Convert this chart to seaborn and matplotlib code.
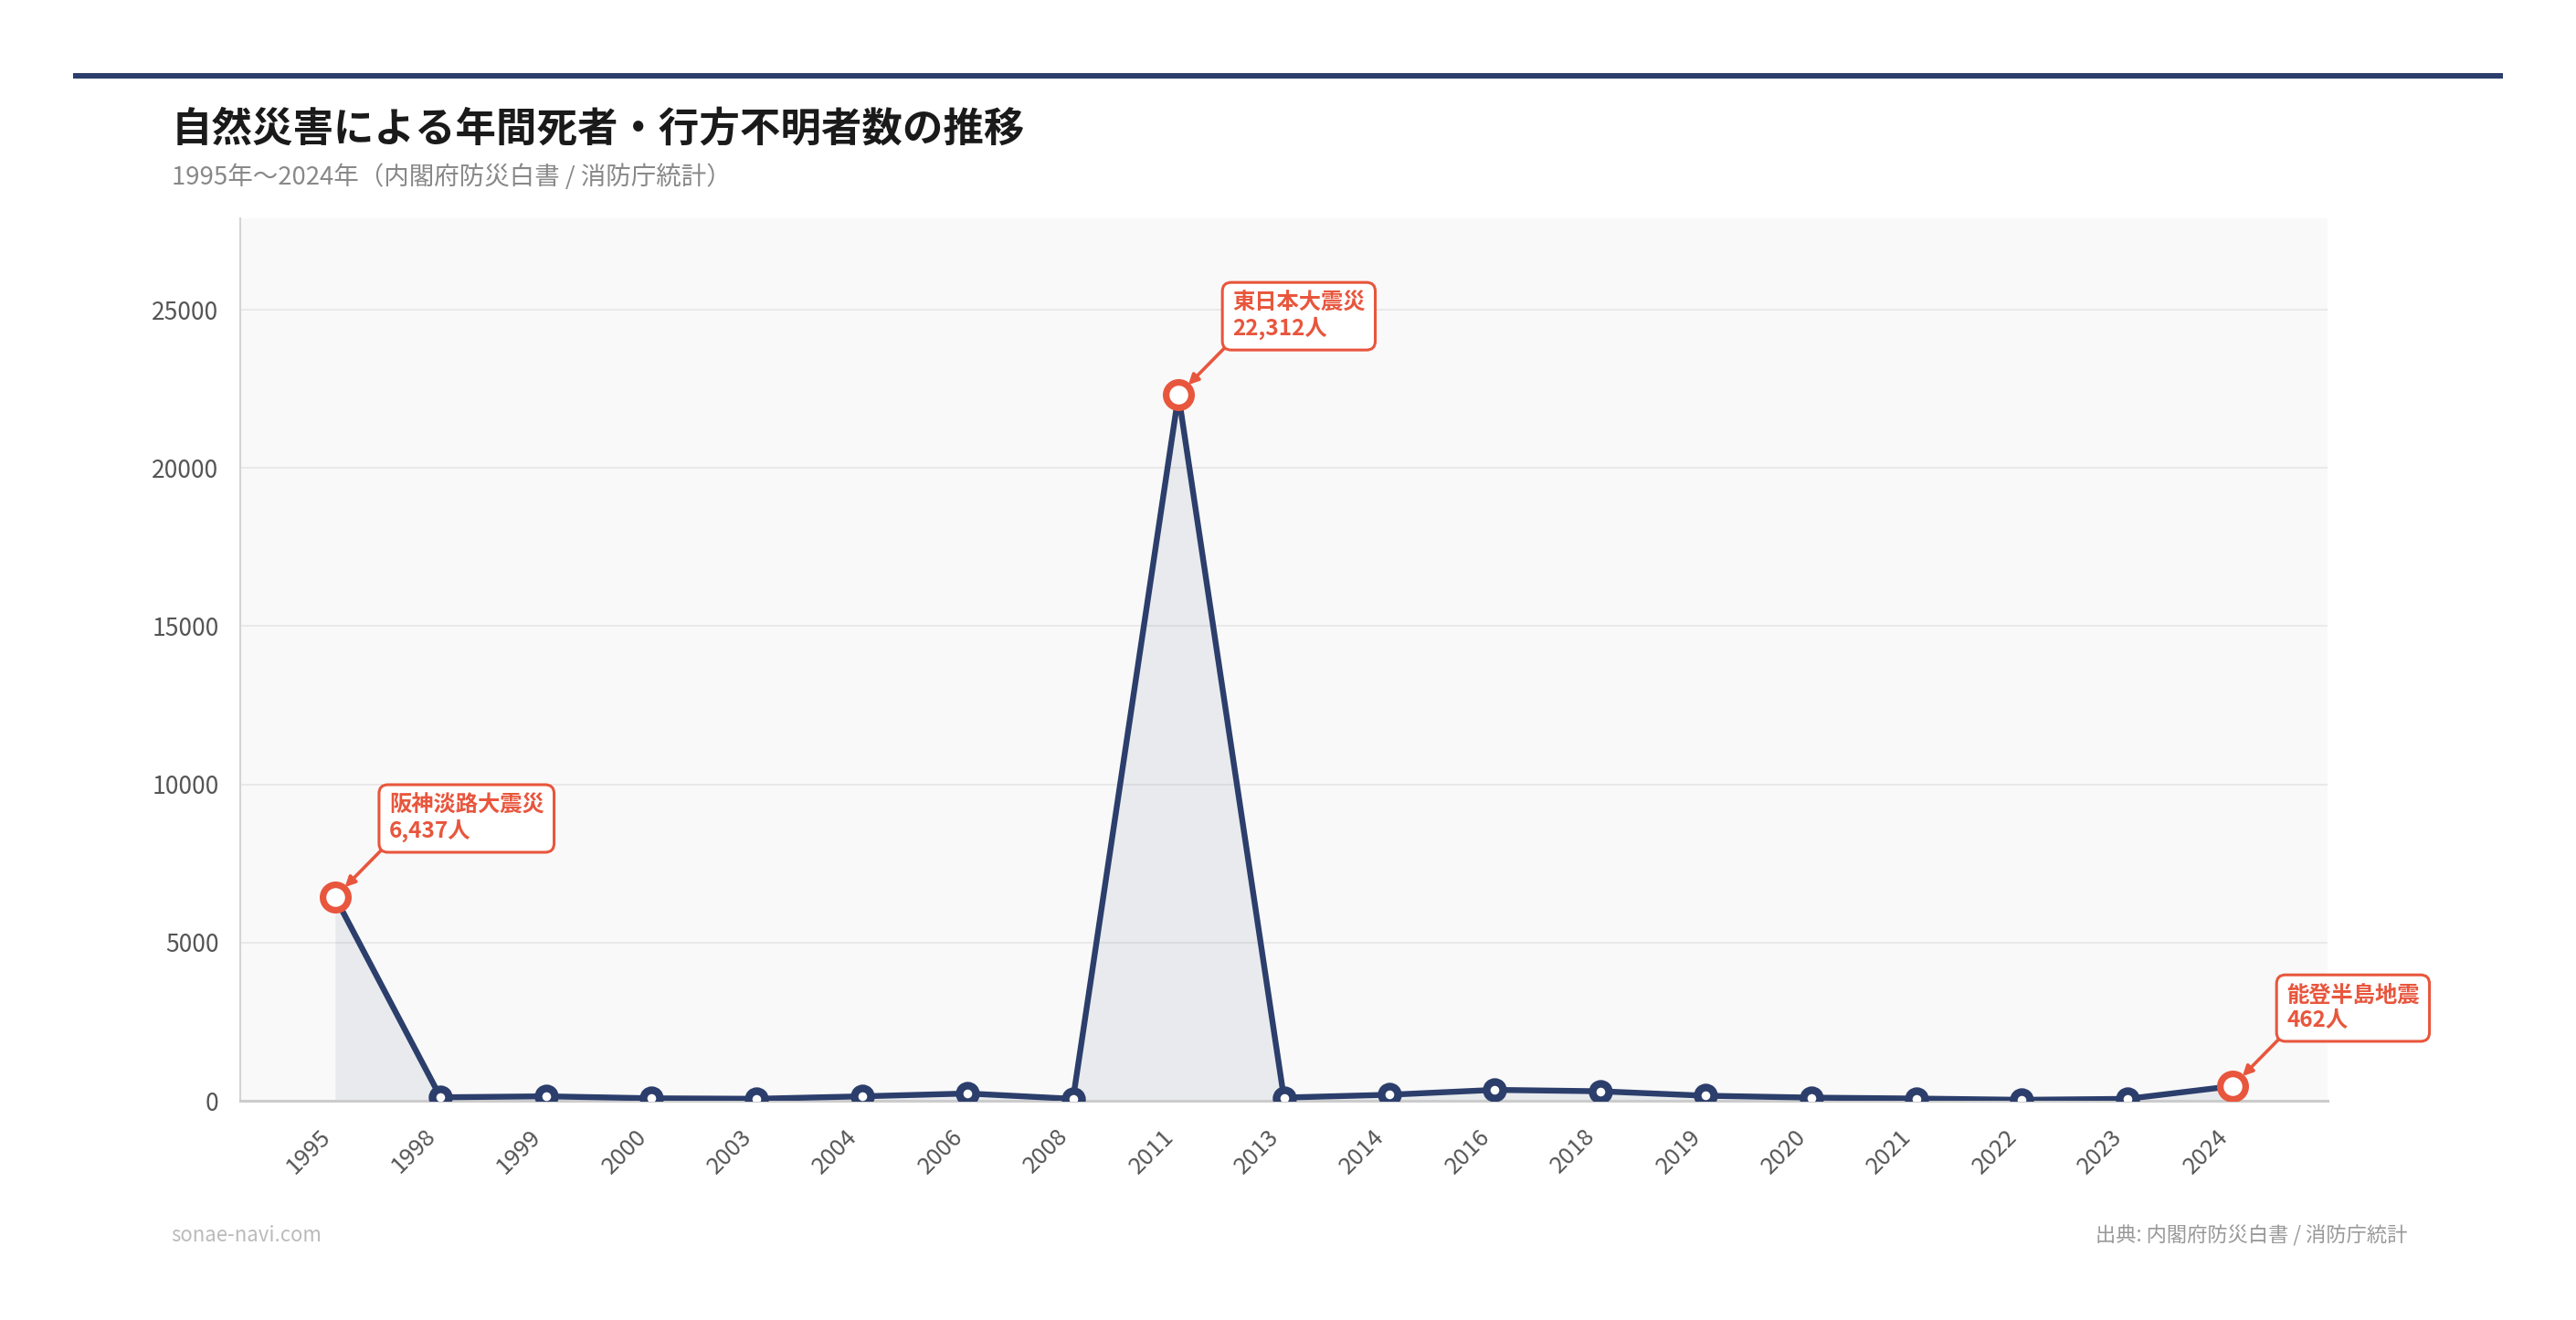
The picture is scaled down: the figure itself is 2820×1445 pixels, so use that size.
import pandas as pd
import seaborn as sns
import matplotlib.pyplot as plt
from matplotlib.patches import Rectangle

# data
years = ["1995", "1998", "1999", "2000", "2003", "2004", "2006", "2008", "2011", "2013",
         "2014", "2016", "2018", "2019", "2020", "2021", "2022", "2023", "2024"]
deaths = [6437, 109, 141, 78, 62, 140, 230, 60, 22312, 100,
          190, 344, 300, 159, 100, 70, 30, 60, 462]
hl_years = ["1995", "2011", "2024"]
hl_names = ["阪神淡路大震災", "東日本大震災", "能登半島地震"]
hl_labels = ["6,437人", "22,312人", "462人"]

title = "自然災害による年間死者・行方不明者数の推移"
subtitle = "1995年〜2024年（内閣府防災白書 / 消防庁統計）"
source = "出典: 内閣府防災白書 / 消防庁統計"
site = "sonae-navi.com"

navy = "#2c3e6b"
red = "#e8563d"

sns.set_theme(style="white")
plt.rcParams["font.family"] = ["Noto Sans CJK JP", "DejaVu Sans"]

df = pd.DataFrame({"year": years, "deaths": deaths})
df["pos"] = range(len(df))

fig = plt.figure(figsize=(28.2, 14.45), dpi=100)
W, H = 2820, 1445
ax = fig.add_axes([263 / W, 1 - 1205 / H, (2548 - 263) / W, (1205 - 239) / H])
ax.set_facecolor("#f9f9f9")

ax.fill_between(df["pos"], df["deaths"], 0, color=navy, alpha=0.08, lw=0, zorder=1)
sns.lineplot(data=df, x="pos", y="deaths", ax=ax, color=navy, linewidth=4.6,
             marker="o", markersize=13, markerfacecolor="white",
             markeredgecolor=navy, markeredgewidth=6, zorder=3)

hl = df[df["year"].isin(hl_years)]
ax.plot(hl["pos"], hl["deaths"], linestyle="none", marker="o", markersize=20,
        markerfacecolor="white", markeredgecolor=red, markeredgewidth=5.2, zorder=4)

for (px, py), name, lab in zip(hl[["pos", "deaths"]].values, hl_names, hl_labels):
    ax.annotate(f"{name}\n{lab}", xy=(px, py), xytext=(59, 60), textcoords="offset pixels",
                ha="left", va="bottom", fontsize=17.5, fontweight="bold", color=red,
                linespacing=1.15, annotation_clip=False, zorder=6,
                bbox=dict(boxstyle="round,pad=0.45,rounding_size=0.4", fc="white",
                          ec=red, lw=2.2),
                arrowprops=dict(arrowstyle="-|>", color=red, lw=2.6, mutation_scale=16,
                                shrinkA=0, shrinkB=11, relpos=(0, 0)))

ax.set_xlim(-0.9, len(years) - 1 + 0.9)
ax.set_ylim(0, 27890)
ax.set_xticks(df["pos"])
ax.set_xticklabels(years, rotation=45, ha="right", va="bottom", rotation_mode="anchor",
                   fontsize=18.5, color="#555555")
ax.set_yticks([0, 5000, 10000, 15000, 20000, 25000])
ax.set_yticklabels(["0", "5000", "10000", "15000", "20000", "25000"],
                   fontsize=19, color="#555555")
ax.tick_params(axis="x", length=0, pad=32)
ax.tick_params(axis="y", length=0, pad=17)
ax.set_xlabel("")
ax.set_ylabel("")
ax.grid(axis="y", color="#e6e6e6", linewidth=1.2)
ax.grid(axis="x", visible=False)
for s in ["top", "right"]:
    ax.spines[s].set_visible(False)
ax.spines["left"].set_color("#d4d4d4")
ax.spines["left"].set_linewidth(1.5)
ax.spines["bottom"].set_color("#cccccc")
ax.spines["bottom"].set_linewidth(2.2)

# header rule and texts
fig.add_artist(Rectangle((80 / W, 1 - 86 / H), (2740 - 80) / W, 6 / H,
                         transform=fig.transFigure, color=navy, lw=0))
fig.text(188 / W, 1 - 155 / H, title, fontsize=32, fontweight="bold",
         color="#1a1a1a", va="baseline")
fig.text(188 / W, 1 - 202 / H, subtitle, fontsize=19.8, color="#888888", va="baseline")
fig.text(187 / W, 1 - 1359 / H, site, fontsize=16, color="#bbbbbb", va="baseline")
fig.text(2635 / W, 1 - 1359 / H, source, fontsize=16, color="#999999",
         va="baseline", ha="right")

fig.savefig("out.png", dpi=100, facecolor="white")
